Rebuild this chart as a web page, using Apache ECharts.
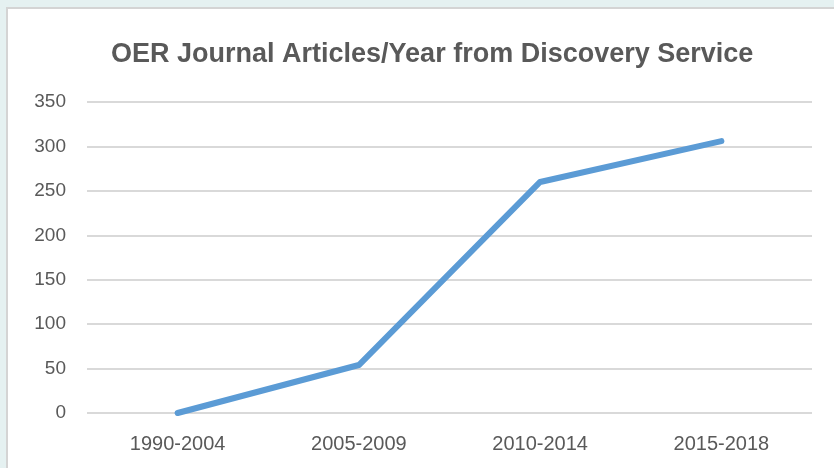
<!DOCTYPE html>
<html><head><meta charset="utf-8">
<script src="https://cdn.jsdelivr.net/npm/echarts@6/dist/echarts.min.js"></script>
<style>
html,body{margin:0;padding:0;width:834px;height:468px;background:#e5f1f1;overflow:hidden;}
#panel{position:absolute;left:6px;top:7px;width:840px;height:470px;background:#fff;border:2px solid #d4d4d4;box-sizing:border-box;}
#c{position:absolute;left:0;top:0;width:834px;height:468px;}
</style></head>
<body><div id="panel"></div><div id="c"></div>
<script>
const categories = ['1990-2004','2005-2009','2010-2014','2015-2018'];
const articles = [0, 54, 260, 306];
const titleText = 'OER Journal Articles/Year from Discovery Service';
const chart = echarts.init(document.getElementById('c'));
chart.setOption({
  animation:false,
  title:{text:titleText,left:106,top:36,textStyle:{fontFamily:'Liberation Sans',fontSize:27,fontWeight:'bold',color:'#595959'}},
  grid:{left:87,right:22,top:102,bottom:55,containLabel:false},
  xAxis:{type:'category',data:categories,axisLine:{show:false},axisTick:{show:false},
    axisLabel:{color:'#595959',fontFamily:'Liberation Sans',fontSize:20,margin:21}},
  yAxis:{type:'value',min:0,max:350,interval:50,axisLine:{show:false},axisTick:{show:false},
    axisLabel:{color:'#595959',fontFamily:'Liberation Sans',fontSize:19,margin:21},
    splitLine:{lineStyle:{color:'#d9d9d9',width:2}}},
  series:[{type:'line',data:articles,symbol:'none',lineStyle:{color:'#5b9bd5',width:6,cap:'round',join:'round'}}]
});
</script></body></html>
